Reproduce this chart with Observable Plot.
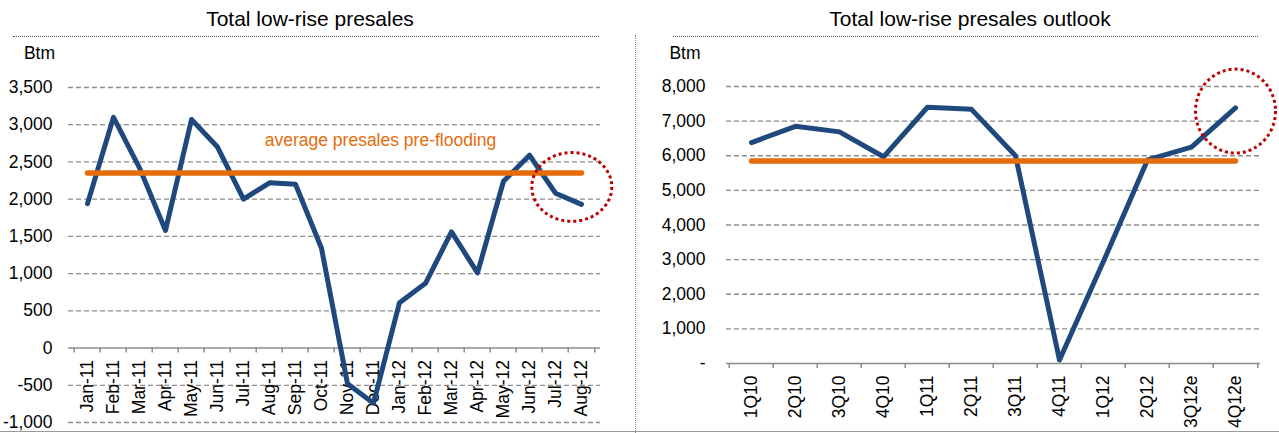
<!DOCTYPE html>
<html>
<head>
<meta charset="utf-8">
<script src="https://cdn.jsdelivr.net/npm/d3@7"></script>
<script src="https://cdn.jsdelivr.net/npm/@observablehq/plot@0.6"></script>
<style>
  body { margin: 0; background: #fff; font-family: "Liberation Sans", Arial, sans-serif; }
  #page { position: relative; width: 1279px; height: 433px; overflow: hidden; background: #fff; }
  .panel { position: absolute; top: 0; }
  .title { position: absolute; top: 8px; width: 400px; font-size: 21px; line-height: 21px; text-align: center; color: #000; white-space: nowrap; }
  .underline { position: absolute; top: 36px; height: 0; border-top: 1px dotted #555; }
  .divider { position: absolute; left: 635px; top: 35px; height: 398px; width: 0; border-left: 1px dotted #888; }
  .baseline { position: absolute; left: 0; top: 431px; width: 1279px; height: 0; border-top: 1.5px solid #9a9a9a; }
</style>
</head>
<body>
<div id="page"></div>
<script>
// Monthly low-rise presales (Btm)
const monthLabels = ["Jan-11", "Feb-11", "Mar-11", "Apr-11", "May-11", "Jun-11", "Jul-11", "Aug-11",
  "Sep-11", "Oct-11", "Nov-11", "Dec-11", "Jan-12", "Feb-12", "Mar-12", "Apr-12",
  "May-12", "Jun-12", "Jul-12", "Aug-12"];
const monthlyPresales = [1940, 3100, 2420, 1580, 3070, 2700, 2000, 2220, 2200, 1340,
  -480, -740, 610, 870, 1560, 1010, 2240, 2590, 2080, 1930];
const monthlyPreFloodAverage = 2350;
const monthlyTicks = [-1000, -500, 0, 500, 1000, 1500, 2000, 2500, 3000, 3500];
const averageNote = "average presales pre-flooding";
const averageNoteAt = {month: "Dec-11", value: 2790};
const monthlyHighlight = {month: "Aug-12", value: 2164};

// Quarterly low-rise presales outlook (Btm)
const quarterLabels = ["1Q10", "2Q10", "3Q10", "4Q10", "1Q11", "2Q11", "3Q11", "4Q11",
  "1Q12", "2Q12", "3Q12e", "4Q12e"];
const quarterlyPresales = [6380, 6850, 6690, 5970, 7400, 7340, 6000, 100, 2950, 5880, 6250, 7380];
const quarterlyAverage = 5850;
const quarterlyTicks = [0, 1000, 2000, 3000, 4000, 5000, 6000, 7000, 8000];
const quarterlyHighlight = {quarter: "4Q12e", value: 7290};

const panelTitles = ["Total low-rise presales", "Total low-rise presales outlook"];
const unitLabel = "Btm";

const BLUE = "#1F497D", ORANGE = "#E46C0A", RED = "#C00000", GRID = "#8c8c8c";
const FONT = 17.5;

// Dotted ellipse drawn as a custom dot symbol (rx from r, ry = rx * ratio)
const ellipse = ratio => ({
  draw(ctx, size) {
    const rx = Math.sqrt(size / Math.PI), ry = rx * ratio, k = 0.5523;
    ctx.moveTo(rx, 0);
    ctx.bezierCurveTo(rx, ry * k, rx * k, ry, 0, ry);
    ctx.bezierCurveTo(-rx * k, ry, -rx, ry * k, -rx, 0);
    ctx.bezierCurveTo(-rx, -ry * k, -rx * k, -ry, 0, -ry);
    ctx.bezierCurveTo(rx * k, -ry, rx, -ry * k, rx, 0);
    ctx.closePath();
  }
});

function panel(o) {
  const innerW = o.width - o.marginLeft - o.marginRight;
  const bw = innerW / o.categories.length;
  const rows = o.categories.map((c, i) => ({c, v: o.values[i]}));
  return Plot.plot({
    width: o.width,
    height: 433,
    marginTop: o.marginTop,
    marginRight: o.marginRight,
    marginBottom: o.marginBottom,
    marginLeft: o.marginLeft,
    x: {type: "band", domain: o.categories, padding: 0, axis: null},
    y: {domain: o.domain, axis: null},
    style: {fontFamily: '"Liberation Sans", Arial, sans-serif', color: "#000", background: "transparent", overflow: "visible"},
    marks: [
      // dashed gridlines and solid zero axis
      Plot.ruleY(o.ticks.filter(t => t !== 0), {y: d => d, stroke: GRID, strokeWidth: 1.3, strokeDasharray: "5,3"}),
      Plot.ruleY([0], {y: d => d, stroke: GRID, strokeWidth: 1.6}),
      // tick marks between categories
      Plot.ruleX(o.categories, {x: d => d, y1: 0, y2: 0, insetBottom: -5, dx: -bw / 2, stroke: GRID, strokeWidth: 1.5}),
      Plot.ruleX(o.categories.slice(-1), {x: d => d, y1: 0, y2: 0, insetBottom: -5, dx: bw / 2, stroke: GRID, strokeWidth: 1.5}),
      // y tick labels
      Plot.text(o.ticks, {y: d => d, text: o.tickFormat, frameAnchor: "left", textAnchor: "end", lineAnchor: "middle",
        dx: -o.labelGap, fontSize: FONT, fill: "#000"}),
      // unit label
      Plot.text([unitLabel], {text: d => d, frameAnchor: "top-left", textAnchor: "middle", lineAnchor: "middle",
        dx: o.unitDx, dy: o.unitDy, fontSize: FONT, fill: "#000"}),
      // rotated category labels hanging under the zero line
      Plot.text(o.categories, {x: d => d, y: () => 0, text: d => d, rotate: -90, textAnchor: "end", lineAnchor: "middle",
        dy: o.catDy, fontSize: FONT, fill: "#000"}),
      // presales series
      Plot.line(rows, {x: "c", y: "v", stroke: BLUE, strokeWidth: 5, strokeLinejoin: "round", strokeLinecap: "round"}),
      // average line
      Plot.line(o.categories, {x: d => d, y: () => o.average, stroke: ORANGE, strokeWidth: 5.5, strokeLinecap: "round"}),
      ...(o.extra || []),
      // highlight ring
      Plot.dot([o.highlight], {x: o.highlightX, y: "value", r: o.highlightR, symbol: ellipse(o.highlightRatio),
        dx: o.highlightDx, fill: "none", stroke: RED, strokeWidth: 3, strokeDasharray: "3,3"})
    ]
  });
}

const page = document.getElementById("page");
const fmtMonthly = d => d.toLocaleString("en-US");
const fmtQuarterly = d => d === 0 ? "-" : d.toLocaleString("en-US");

const left = panel({
  width: 636, marginTop: 87, marginRight: 36, marginBottom: 11, marginLeft: 68,
  categories: monthLabels, values: monthlyPresales, average: monthlyPreFloodAverage,
  domain: [-1000, 3500], ticks: monthlyTicks, tickFormat: fmtMonthly, labelGap: 16,
  unitDx: -29, unitDy: -34, catDy: 12,
  highlight: monthlyHighlight, highlightX: "month", highlightR: 40, highlightRatio: 0.86, highlightDx: -9.7,
  extra: [
    Plot.text([averageNoteAt], {x: "month", y: "value", text: () => averageNote, dx: 7,
      fill: ORANGE, fontSize: FONT, textAnchor: "middle"})
  ]
});
left.classList.add("panel");
left.style.left = "0px";

const right = panel({
  width: 643, marginTop: 86, marginRight: 19, marginBottom: 70, marginLeft: 90,
  categories: quarterLabels, values: quarterlyPresales, average: quarterlyAverage,
  domain: [0, 8000], ticks: quarterlyTicks, tickFormat: fmtQuarterly, labelGap: 21,
  unitDx: -41.5, unitDy: -33, catDy: 12,
  highlight: quarterlyHighlight, highlightX: "quarter", highlightR: 40, highlightRatio: 1.05, highlightDx: 0
});
right.classList.add("panel");
right.style.left = "636px";

page.append(left, right);

// panel titles, rules and frame lines
const titleCenters = [310, 970];
panelTitles.forEach((t, i) => {
  const div = document.createElement("div");
  div.className = "title";
  div.textContent = t;
  div.style.left = (titleCenters[i] - 200) + "px";
  page.append(div);
});
[[13, 586], [673, 585]].forEach(([x, w]) => {
  const u = document.createElement("div");
  u.className = "underline";
  u.style.left = x + "px";
  u.style.width = w + "px";
  page.append(u);
});
const divider = document.createElement("div");
divider.className = "divider";
page.append(divider);
const base = document.createElement("div");
base.className = "baseline";
page.append(base);
</script>
</body>
</html>
